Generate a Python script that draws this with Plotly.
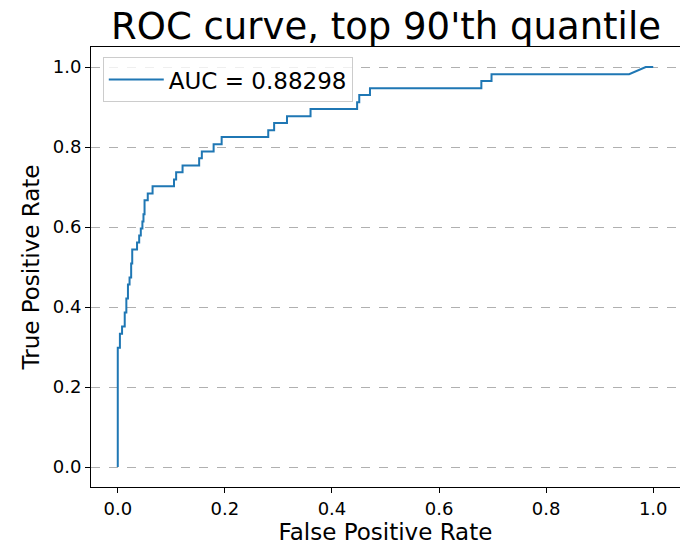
import plotly.graph_objects as go

fpr = [0, 0, 0.004, 0.004, 0.008, 0.008, 0.013, 0.013, 0.016, 0.016, 0.019, 0.019,
       0.022, 0.022, 0.025, 0.025, 0.027, 0.027, 0.036, 0.036, 0.040, 0.040, 0.043, 0.043,
       0.046, 0.046, 0.048, 0.048, 0.050, 0.050, 0.056, 0.056, 0.065, 0.065, 0.105, 0.105,
       0.109, 0.109, 0.121, 0.121, 0.152, 0.152, 0.157, 0.157, 0.179, 0.179, 0.194, 0.194,
       0.281, 0.281, 0.292, 0.292, 0.316, 0.316, 0.360, 0.360, 0.447, 0.447, 0.451, 0.451,
       0.471, 0.471, 0.679, 0.679, 0.698, 0.698, 0.955, 0.986, 1.0]
tpr = [0, 0.298, 0.298, 0.333, 0.333, 0.351, 0.351, 0.386, 0.386, 0.421, 0.421, 0.456,
       0.456, 0.474, 0.474, 0.509, 0.509, 0.544, 0.544, 0.561, 0.561, 0.579, 0.579, 0.596,
       0.596, 0.614, 0.614, 0.632, 0.632, 0.667, 0.667, 0.684, 0.684, 0.702, 0.702, 0.719,
       0.719, 0.737, 0.737, 0.754, 0.754, 0.772, 0.772, 0.789, 0.789, 0.807, 0.807, 0.825,
       0.825, 0.842, 0.842, 0.860, 0.860, 0.877, 0.877, 0.895, 0.895, 0.912, 0.912, 0.930,
       0.930, 0.947, 0.947, 0.965, 0.965, 0.982, 0.982, 1.0, 1.0]
auc_label = "AUC = 0.88298"
title_text = "ROC curve, top 90'th quantile"
tick_vals = [0.0, 0.2, 0.4, 0.6, 0.8, 1.0]
tick_text = ["0.0", "0.2", "0.4", "0.6", "0.8", "1.0"]

font_family = "DejaVu Sans"

fig = go.Figure()
fig.add_trace(go.Scatter(x=fpr, y=tpr, mode="lines", name=auc_label,
                         line=dict(color="#1f77b4", width=2), showlegend=True))

fig.update_layout(
    width=680, height=545,
    margin=dict(l=91, r=0, t=47, b=58),
    paper_bgcolor="white", plot_bgcolor="white",
    font=dict(family=font_family, color="black"),
    title=dict(text=title_text, x=(91 + 681) / 2 / 680, xanchor="center",
               y=1 - 26 / 545, yanchor="middle",
               font=dict(size=37, family=font_family, color="black")),
    showlegend=True,
    legend=dict(x=0.02, y=0.977, xanchor="left", yanchor="top",
                bgcolor="rgba(255,255,255,0.8)", bordercolor="#cccccc", borderwidth=1,
                font=dict(size=23, family=font_family, color="black"),
                itemwidth=55),
)
fig.update_xaxes(range=[-0.05, 1.05], tickvals=tick_vals, ticktext=tick_text,
                 showgrid=False, zeroline=False, showline=True, linecolor="black",
                 linewidth=1, mirror=True, ticks="outside", ticklen=5, tickcolor="black",
                 tickfont=dict(size=18, family=font_family, color="black"),
                 title=dict(text="False Positive Rate", standoff=2,
                            font=dict(size=23, family=font_family, color="black")))
fig.update_yaxes(range=[-0.05, 1.05], tickvals=tick_vals, ticktext=tick_text,
                 showgrid=True, gridcolor="#b0b0b0", griddash="dash", gridwidth=0.8,
                 zeroline=False, showline=True, linecolor="black",
                 linewidth=1, mirror=True, ticks="outside", ticklen=5, tickcolor="black",
                 tickfont=dict(size=18, family=font_family, color="black"),
                 title=dict(text="True Positive Rate", standoff=6,
                            font=dict(size=23, family=font_family, color="black")))

fig.write_html("out.html")
